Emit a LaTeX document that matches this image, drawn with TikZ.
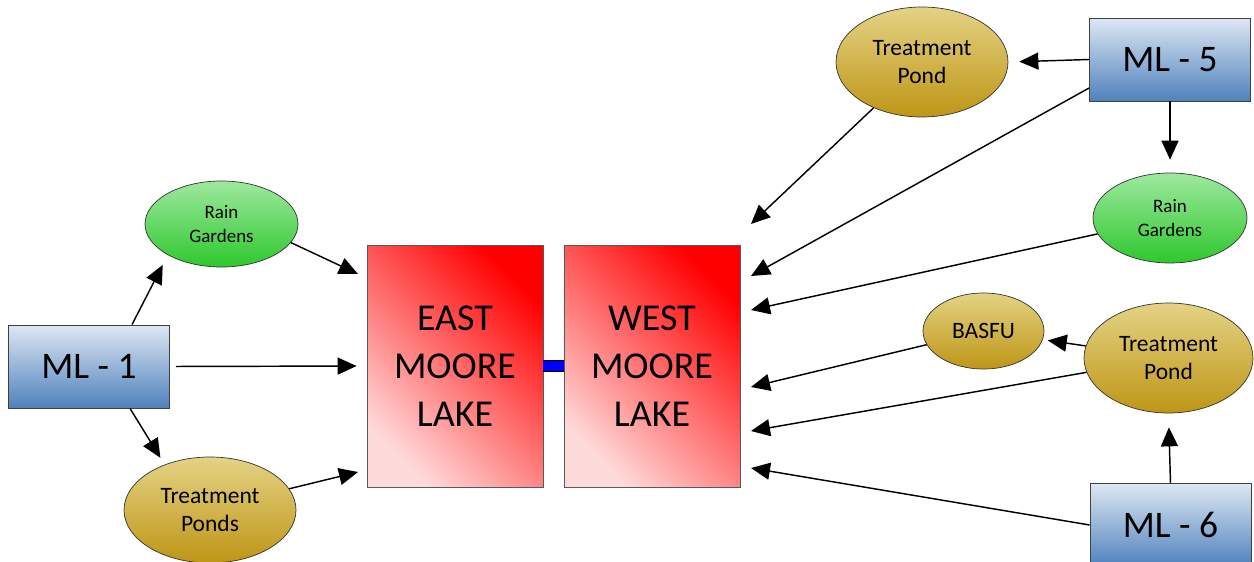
\documentclass[tikz,border=0pt]{standalone}
\usepackage{fontspec}
\setmainfont{Carlito}
\usetikzlibrary{shapes.geometric,arrows.meta}
\definecolor{boxtop}{RGB}{222,231,243}
\definecolor{boxbot}{RGB}{79,129,189}
\definecolor{gtop}{RGB}{158,232,158}
\definecolor{gbot}{RGB}{46,200,46}
\definecolor{ytop}{RGB}{228,210,132}
\definecolor{ybot}{RGB}{190,150,22}
\definecolor{lakered}{RGB}{255,0,0}
\definecolor{lakelight}{RGB}{255,218,218}
\begin{document}
\begin{tikzpicture}[x=1pt,y=-1pt,
  mlbox/.style={draw=black!75, line width=0.8pt, top color=boxtop, bottom color=boxbot,
    minimum width=161pt, minimum height=83pt, inner sep=0pt, font=\fontsize{37.5}{45}\selectfont},
  lake/.style={draw=black!65, line width=0.8pt, top color=lakered, bottom color=lakelight,
    shading angle=-45, minimum width=176pt, minimum height=242pt, inner sep=0pt,
    align=center, font=\fontsize{38}{48}\selectfont},
  rainell/.style={ellipse, draw=black!80, line width=0.7pt, top color=gtop, bottom color=gbot,
    inner sep=0pt, align=center, font=\fontsize{19}{24}\selectfont},
  pondell/.style={ellipse, draw=black!80, line width=0.7pt, top color=ytop, bottom color=ybot,
    inner sep=0pt, align=center, font=\fontsize{23.5}{27.5}\selectfont},
  flow/.style={line width=1.45pt, -{Triangle[length=19pt,width=17pt]}},
  link/.style={line width=0.8pt, double=blue, double distance=10.5pt}
]
\useasboundingbox (0,0) rectangle (1254,562);
\clip (0,0) rectangle (1254,562);

% left side
\node[mlbox] (ml1) at (89,366.5) {ML - 1};
\node[rainell, minimum width=153pt, minimum height=86pt] (rg1) at (221.5,224) {Rain\\Gardens};
\node[pondell, minimum width=172pt, minimum height=106pt] (tp3) at (210,510) {Treatment\\Ponds};

% lakes
\node[lake] (east) at (455,366) {EAST\\MOORE\\LAKE};
\node[lake] (west) at (652,366) {WEST\\MOORE\\LAKE};
\draw[link] (east.east) -- (west.west);

% right side
\node[pondell, minimum width=172pt, minimum height=110pt] (tp1) at (922,62) {Treatment\\Pond};
\node[mlbox] (ml5) at (1170,59.5) {ML - 5};
\node[rainell, minimum width=154pt, minimum height=90pt] (rg2) at (1170,218) {Rain\\Gardens};
\node[pondell, minimum width=121pt, minimum height=76pt] (basfu) at (983.5,331) {BASFU};
\node[pondell, minimum width=169pt, minimum height=110pt] (tp2) at (1168.5,358) {Treatment\\Pond};
\node[mlbox] (ml6) at (1170.5,525) {ML - 6};

% arrow end points near the lakes
\coordinate (e1) at (358,274);
\coordinate (e2) at (358,472);
\coordinate (w1) at (751,224);
\coordinate (w2) at (751,276);
\coordinate (w3) at (751,310);
\coordinate (w4) at (751,387);
\coordinate (w5) at (751,431);
\coordinate (w6) at (751,468);

% left connectors
\draw[flow, shorten >=11pt] ([xshift=43pt]ml1.north) -- (rg1.210);
\draw[flow, shorten >=8pt] ([xshift=41pt]ml1.south) -- (tp3.135);
\draw[flow, shorten <=6pt, shorten >=10pt] (ml1.east) -- (east.west);
\draw[flow] (rg1.-15) -- (e1);
\draw[flow] (tp3.15) -- (e2);

% right connectors
\draw[flow] (tp1) -- (w1);
\draw[flow] ([yshift=-28.5pt]ml5.west) -- (w2);
\draw[flow, shorten >=11pt] (ml5.west) -- (tp1.east);
\draw[flow, shorten >=13pt] (ml5.south) -- (rg2.north);
\draw[flow] (rg2) -- (w3);
\draw[flow] (basfu) -- (w4);
\draw[flow] (tp2) -- (w5);
\draw[flow, shorten >=5pt] (tp2) -- (basfu);
\draw[flow, shorten >=14pt] (ml6.north) -- (tp2.south);
\draw[flow] (ml6.west) -- (w6);
\end{tikzpicture}
\end{document}
